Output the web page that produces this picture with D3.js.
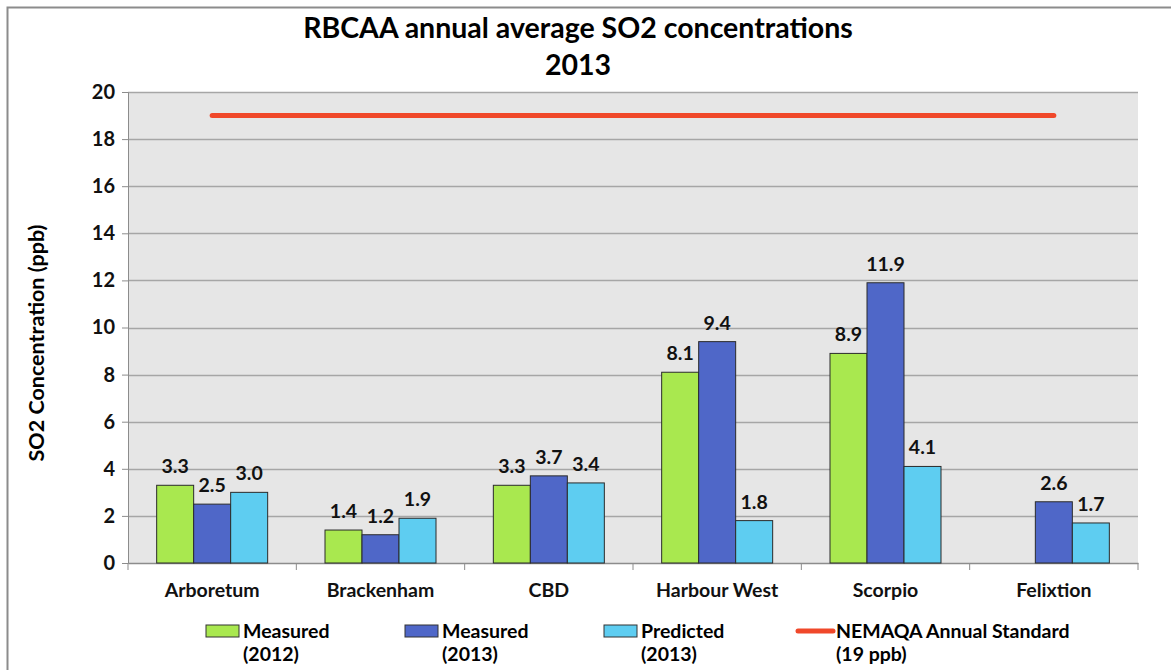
<!DOCTYPE html>
<html>
<head>
<meta charset="utf-8">
<script src="https://cdn.jsdelivr.net/npm/d3@7"></script>
<style>
  body { margin: 0; background: #fff; }
  svg { font-family: Lato, "Open Sans", sans-serif; font-weight: bold; }
</style>
</head>
<body>
<svg id="chart" width="1171" height="670"></svg>
<script>
const sites = ['Arboretum', 'Brackenham', 'CBD', 'Harbour West', 'Scorpio', 'Felixtion']
const measured2012 = [3.3, 1.4, 3.3, 8.1, 8.9, null]
const measured2013 = [2.5, 1.2, 3.7, 9.4, 11.9, 2.6]
const predicted2013 = [3.0, 1.9, 3.4, 1.8, 4.1, 1.7]
const standard = [19, 19, 19, 19, 19, 19]
const yTicks = [0, 2, 4, 6, 8, 10, 12, 14, 16, 18, 20]

const series = [
    { key: 'm12', name: ['Measured', '(2012)'], values: measured2012, color: '#A9E84F' },
    { key: 'm13', name: ['Measured', '(2013)'], values: measured2013, color: '#4F67C8' },
    { key: 'p13', name: ['Predicted', '(2013)'], values: predicted2013, color: '#5ECDF1' },
]

const chart = { left: 128, right: 1138, top: 92, bottom: 563 }
const fs = 19.5
const svg = d3.select('#chart')

// outer frame
svg.append('rect')
    .attr('x', 7.5).attr('y', 7.5)
    .attr('width', 1200).attr('height', 700)
    .attr('fill', 'none').attr('stroke', '#8c8c8c').attr('stroke-width', 2)

// title
svg.append('text').attr('x', 578).attr('y', 38)
    .attr('text-anchor', 'middle').attr('font-size', 28.5)
    .text('RBCAA annual average SO2 concentrations')
svg.append('text').attr('x', 578).attr('y', 75)
    .attr('text-anchor', 'middle').attr('font-size', 28.5)
    .text('2013')

var x = d3.scaleBand().domain(sites).range([chart.left, chart.right])
// bars are ~37px wide, group of three centred in each band
var inner = d3.scaleBand().domain(series.map(s => s.key))
    .range([(x.bandwidth() - 111) / 2, (x.bandwidth() + 111) / 2])

var y = d3.scaleLinear().domain([0, 20]).range([chart.bottom, chart.top])

// plot background
svg.append('rect')
    .attr('x', chart.left).attr('y', chart.top)
    .attr('width', chart.right - chart.left).attr('height', chart.bottom - chart.top)
    .attr('fill', '#E6E6E6')

// gridlines
svg.append('g').selectAll('line').data(yTicks.slice(1)).join('line')
    .attr('x1', chart.left).attr('x2', chart.right)
    .attr('y1', d => Math.round(y(d)) + 0.5).attr('y2', d => Math.round(y(d)) + 0.5)
    .attr('stroke', '#A6A6A6').attr('stroke-width', 1.5)

// y axis
const yAxis = svg.append('g')
    .attr('transform', `translate(${chart.left},0)`)
    .call(d3.axisLeft(y).tickValues(yTicks).tickSize(6).tickPadding(7))
yAxis.select('.domain').attr('stroke', '#8c8c8c')
yAxis.selectAll('.tick line').attr('stroke', '#8c8c8c')
yAxis.selectAll('.tick text').attr('font-size', 20).attr('fill', '#111')
    .attr('font-family', 'Lato, sans-serif').attr('font-weight', 'bold')

// x axis
const xAxis = svg.append('g')
    .attr('transform', `translate(0,${chart.bottom})`)
    .call(d3.axisBottom(x).tickSize(0).tickPadding(20))
xAxis.select('.domain').attr('stroke', '#8c8c8c').attr('stroke-width', 1.5)
xAxis.selectAll('.tick text').attr('font-size', fs).attr('fill', '#111')
    .attr('font-family', 'Lato, sans-serif').attr('font-weight', 'bold')
xAxis.selectAll('line.sep').data(d3.range(sites.length + 1)).join('line')
    .attr('class', 'sep')
    .attr('x1', i => chart.left + i * x.step()).attr('x2', i => chart.left + i * x.step())
    .attr('y1', 0).attr('y2', 7)
    .attr('stroke', '#8c8c8c')

// bars
const groups = svg.append('g').selectAll('g').data(series).join('g')
groups.selectAll('rect')
    .data(s => s.values.map((v, i) => ({ site: sites[i], v: v, key: s.key, color: s.color })).filter(d => d.v != null))
    .join('rect')
    .attr('x', d => x(d.site) + inner(d.key))
    .attr('y', d => y(d.v))
    .attr('width', inner.bandwidth())
    .attr('height', d => y(0) - y(d.v))
    .attr('fill', d => d.color)
    .attr('stroke', '#2b2b2b').attr('stroke-width', 1)

groups.selectAll('text')
    .data(s => s.values.map((v, i) => ({ site: sites[i], v: v, key: s.key })).filter(d => d.v != null))
    .join('text')
    .attr('x', d => x(d.site) + inner(d.key) + inner.bandwidth() / 2)
    .attr('y', d => y(d.v) - 12)
    .attr('text-anchor', 'middle').attr('font-size', fs).attr('fill', '#111')
    .text(d => d3.format('.1f')(d.v))

// standard line
svg.append('path')
    .datum(standard)
    .attr('fill', 'none').attr('stroke', '#F0482A').attr('stroke-width', 5)
    .attr('stroke-linecap', 'round')
    .attr('d', d3.line()
        .x((d, i) => x(sites[i]) + x.bandwidth() / 2)
        .y(d => y(d)))

// y label
svg.append('text')
    .attr('transform', 'translate(44,343) rotate(-90)')
    .attr('text-anchor', 'middle').attr('font-size', 21.5)
    .text('SO2 Concentration (ppb)')

// legend
const legendX = [206, 405, 604]
const leg = svg.append('g')
series.forEach((s, i) => {
    leg.append('rect')
        .attr('x', legendX[i]).attr('y', 625)
        .attr('width', 33).attr('height', 12)
        .attr('fill', s.color).attr('stroke', '#333').attr('stroke-width', 1)
    leg.append('text').attr('x', legendX[i] + 37).attr('y', 638)
        .attr('font-size', fs).text(s.name[0])
    leg.append('text').attr('x', legendX[i] + 37).attr('y', 661)
        .attr('font-size', fs).text(s.name[1])
})
leg.append('line')
    .attr('x1', 798).attr('x2', 833).attr('y1', 631).attr('y2', 631)
    .attr('stroke', '#F0482A').attr('stroke-width', 5).attr('stroke-linecap', 'round')
leg.append('text').attr('x', 836).attr('y', 638)
    .attr('font-size', fs).text('NEMAQA Annual Standard')
leg.append('text').attr('x', 836).attr('y', 661)
    .attr('font-size', fs).text('(19 ppb)')
</script>
</body>
</html>
